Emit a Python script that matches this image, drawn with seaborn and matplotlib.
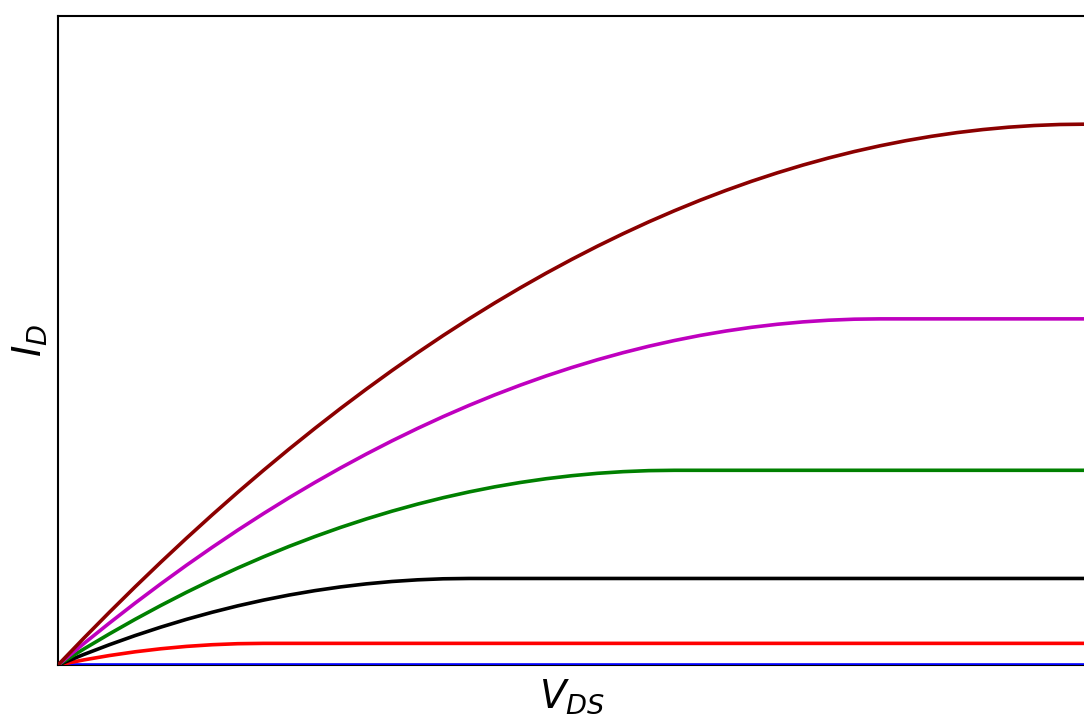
import numpy as np
import pandas as pd
import matplotlib
matplotlib.use("Agg")
import matplotlib.pyplot as plt
import seaborn as sns

# Drain-source voltage samples (normalised)
vds = [0.000, 0.025, 0.050, 0.075, 0.100, 0.125, 0.150, 0.175, 0.200, 0.225,
       0.250, 0.275, 0.300, 0.325, 0.350, 0.375, 0.400, 0.425, 0.450, 0.475,
       0.500, 0.525, 0.550, 0.575, 0.600, 0.625, 0.650, 0.675, 0.700, 0.725,
       0.750, 0.775, 0.800, 0.825, 0.850, 0.875, 0.900, 0.925, 0.950, 0.975,
       1.000]

# Drain current (normalised), one list per gate voltage
id_off = [0.0] * 41
id_vg1 = [0.0, 0.0094, 0.0175, 0.0244, 0.03, 0.0344, 0.0375, 0.0394, 0.04] + [0.04] * 32
id_vg2 = [0.0, 0.0194, 0.0375, 0.0544, 0.07, 0.0844, 0.0975, 0.1094, 0.12,
          0.1294, 0.1375, 0.1444, 0.15, 0.1544, 0.1575, 0.1594, 0.16] + [0.16] * 24
id_vg3 = [0.0, 0.0294, 0.0575, 0.0844, 0.11, 0.1344, 0.1575, 0.1794, 0.2,
          0.2194, 0.2375, 0.2544, 0.27, 0.2844, 0.2975, 0.3094, 0.32,
          0.3294, 0.3375, 0.3444, 0.35, 0.3544, 0.3575, 0.3594, 0.36] + [0.36] * 16
id_vg4 = [0.0, 0.0394, 0.0775, 0.1144, 0.15, 0.1844, 0.2175, 0.2494, 0.28,
          0.3094, 0.3375, 0.3644, 0.39, 0.4144, 0.4375, 0.4594, 0.48,
          0.4994, 0.5175, 0.5344, 0.55, 0.5644, 0.5775, 0.5894, 0.6,
          0.6094, 0.6175, 0.6244, 0.63, 0.6344, 0.6375, 0.6394, 0.64] + [0.64] * 8
id_vg5 = [0.0, 0.0494, 0.0975, 0.1444, 0.19, 0.2344, 0.2775, 0.3194, 0.36,
          0.3994, 0.4375, 0.4744, 0.51, 0.5444, 0.5775, 0.6094, 0.64,
          0.6694, 0.6975, 0.7244, 0.75, 0.7744, 0.7975, 0.8194, 0.84,
          0.8594, 0.8775, 0.8944, 0.91, 0.9244, 0.9375, 0.9494, 0.96,
          0.9694, 0.9775, 0.9844, 0.99, 0.9944, 0.9975, 0.9994, 1.0]

series_names = ["off", "vg1", "vg2", "vg3", "vg4", "vg5"]
series_values = [id_off, id_vg1, id_vg2, id_vg3, id_vg4, id_vg5]
colors = ["blue", "red", "black", "green", "#bf00bf", "darkred"]

frames = []
for name, vals in zip(series_names, series_values):
    frames.append(pd.DataFrame({"Vds": vds, "Id": vals, "curve": name}))
df = pd.concat(frames, ignore_index=True)

sns.set_style("white")
fig = plt.figure(figsize=(10.84, 7.15), dpi=100)
W, H = 1084, 715
ax = fig.add_axes([58 / W, (H - 665) / H, (1085.5 - 58) / W, (665 - 16) / H])

sns.lineplot(data=df, x="Vds", y="Id", hue="curve", hue_order=series_names,
             palette=dict(zip(series_names, colors)), linewidth=2.6,
             legend=False, ax=ax, sort=False)
for ln in ax.get_lines():
    ln.set_zorder(3)
    ln.set_solid_joinstyle("round")

ax.set_xlim(0, 1.0)
ax.set_ylim(0, 1.2)
ax.set_xticks([])
ax.set_yticks([])
for s in ax.spines.values():
    s.set_color("black")
    s.set_linewidth(1.5)
ax.set_xlabel("$V_{DS}$", fontsize=28, labelpad=9, color="black")
ax.set_ylabel("$I_D$", fontsize=28, labelpad=6, color="black")

fig.savefig("out.png", dpi=100)
